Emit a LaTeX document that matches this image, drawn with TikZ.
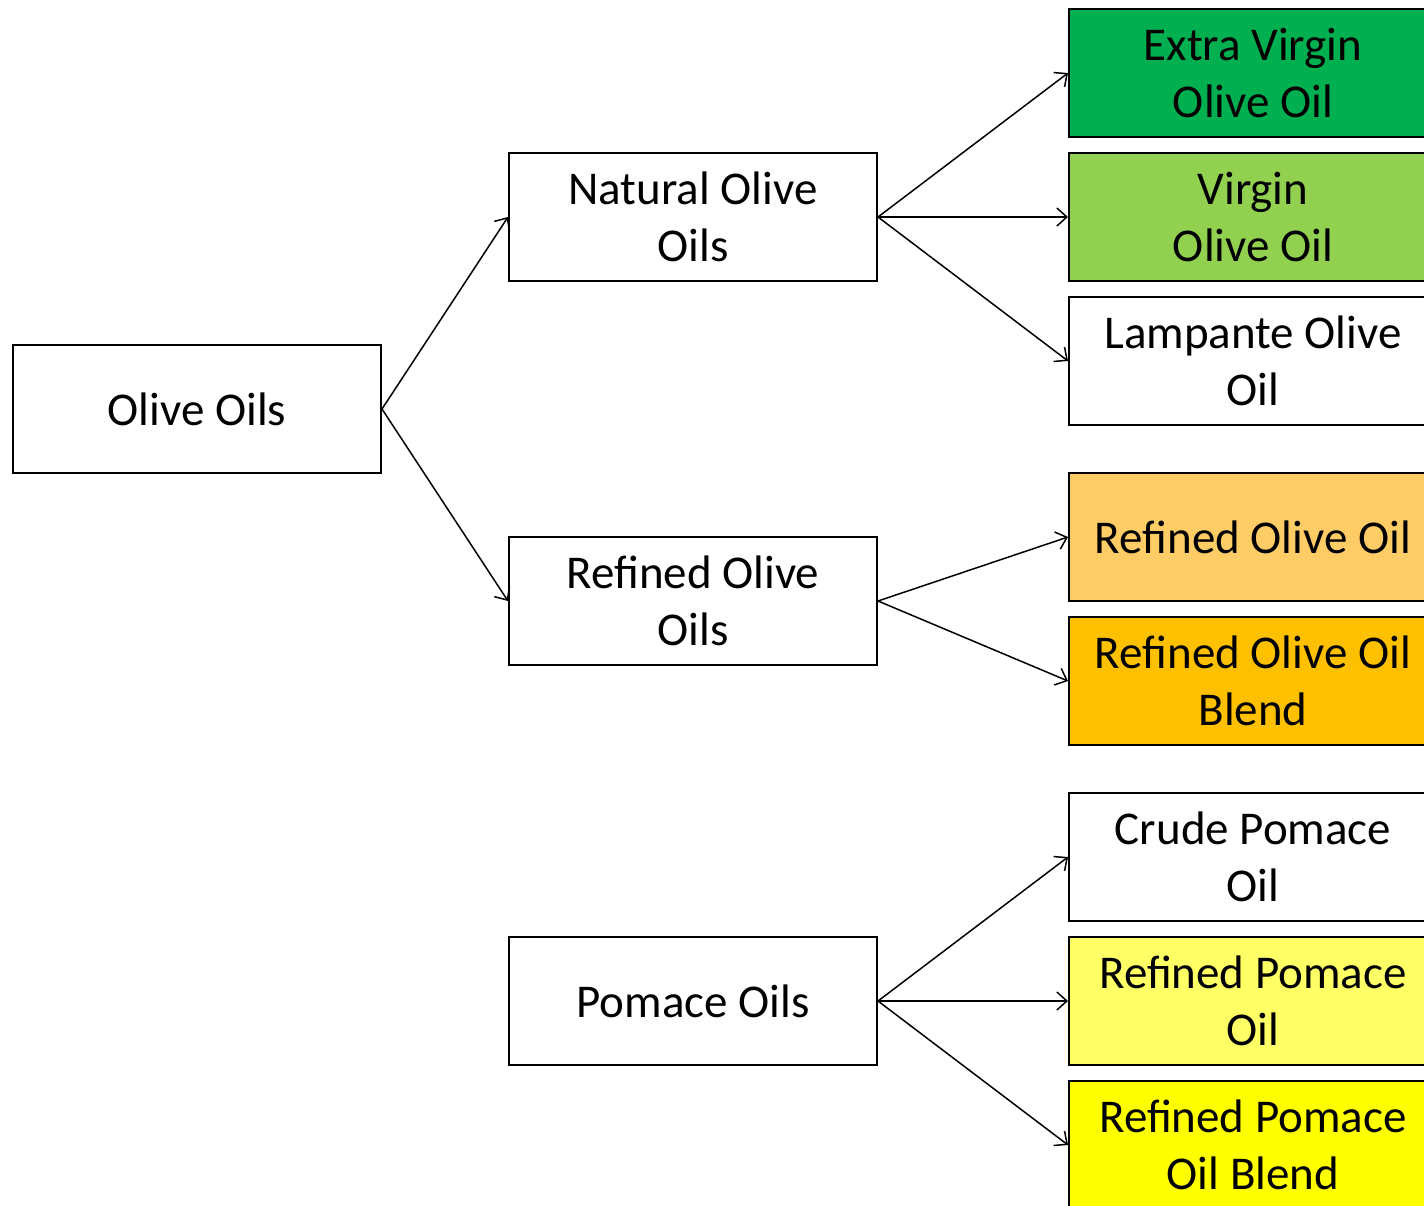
\documentclass[tikz,border=0pt]{standalone}
\usepackage{fontspec}
\setmainfont{Carlito}
\usetikzlibrary{arrows.meta}
\definecolor{evoo}{HTML}{00B050}
\definecolor{voo}{HTML}{92D050}
\definecolor{roo}{HTML}{FFCC66}
\definecolor{roob}{HTML}{FFC000}
\definecolor{rpo}{HTML}{FFFF66}
\definecolor{rpob}{HTML}{FFFF00}
\tikzset{
  box/.style={draw=black, line width=2pt, rectangle, minimum width=368pt, minimum height=128pt,
    inner sep=0pt, align=center, font=\fontsize{47}{57}\selectfont, text=black},
  link/.style={line width=1.5pt, -{Straight Barb[length=10pt,width=18pt,line width=1.5pt]}}
}
\begin{document}
\begin{tikzpicture}[x=1pt,y=-1pt]
\clip (0,0) rectangle (1424,1205);
\fill[white] (0,0) rectangle (1424,1205);
\node[box] (olive) at (197,409) {Olive Oils};
\node[box] (natural) at (693,217) {Natural Olive\\Oils};
\node[box] (refined) at (693,601) {Refined Olive\\Oils};
\node[box] (pomace) at (693,1001) {Pomace Oils};
\node[box, fill=evoo] (evoo) at (1253,73) {Extra Virgin\\Olive Oil};
\node[box, fill=voo] (voo) at (1253,217) {Virgin\\Olive Oil};
\node[box] (lamp) at (1253,361) {Lampante Olive\\Oil};
\node[box, fill=roo] (roo) at (1253,537) {Refined Olive Oil};
\node[box, fill=roob] (roob) at (1253,681) {Refined Olive Oil\\Blend};
\node[box] (cpo) at (1253,857) {Crude Pomace\\Oil};
\node[box, fill=rpo] (rpo) at (1253,1001) {Refined Pomace\\Oil};
\node[box, fill=rpob] (rpob) at (1253,1145) {Refined Pomace\\Oil Blend};
\draw[link] (olive.east) -- (natural.west);
\draw[link] (olive.east) -- (refined.west);
\draw[link] (natural.east) -- (evoo.west);
\draw[link] (natural.east) -- (voo.west);
\draw[link] (natural.east) -- (lamp.west);
\draw[link] (refined.east) -- (roo.west);
\draw[link] (refined.east) -- (roob.west);
\draw[link] (pomace.east) -- (cpo.west);
\draw[link] (pomace.east) -- (rpo.west);
\draw[link] (pomace.east) -- (rpob.west);
\end{tikzpicture}
\end{document}
